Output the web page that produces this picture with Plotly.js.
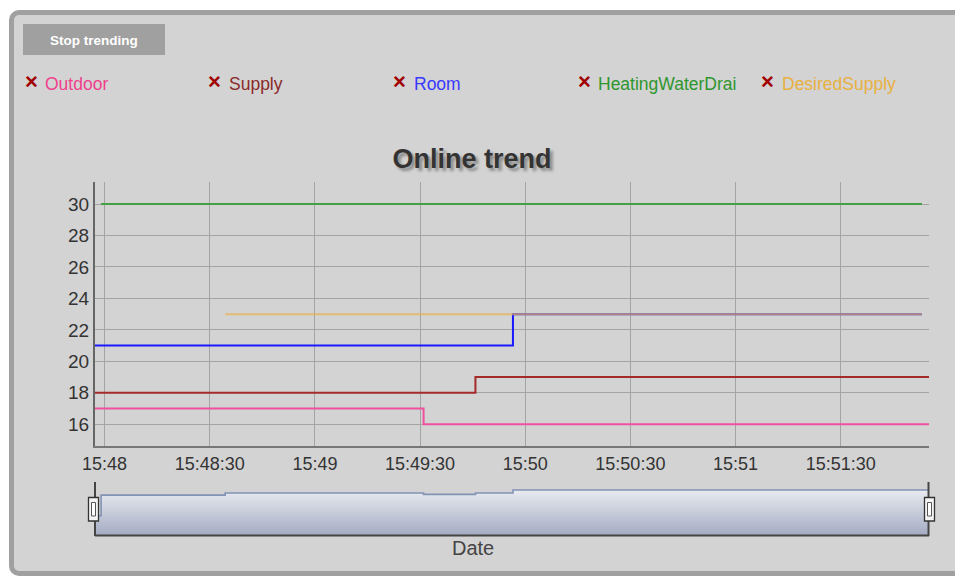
<!DOCTYPE html>
<html>
<head>
<meta charset="utf-8">
<script src="https://cdn.plot.ly/plotly-3.0.1.min.js"></script>
<style>
  html, body { margin: 0; padding: 0; background: #ffffff; width: 955px; height: 577px; overflow: hidden; }
  #card { position: absolute; left: 9px; top: 10px; width: 980px; height: 556px; background: #d3d3d3;
          border: 5px solid #a0a0a0; border-radius: 10px; box-sizing: content-box; }
  #chart { position: absolute; left: 0; top: 0; width: 955px; height: 577px; }
</style>
</head>
<body>
<div id="card"></div>
<div id="chart"></div>
<script>
// ---------------- data ----------------
const DAY = '2024-01-01 ';
const seriesNames = ['Outdoor', 'Supply', 'Room', 'HeatingWaterDrai', 'DesiredSupply'];

const outdoorTime = ['15:47:57', '15:49:31', '15:51:55.2'];
const outdoorVal  = [17, 16, 16];

const supplyTime  = ['15:47:57', '15:49:45.8', '15:51:55.2'];
const supplyVal   = [18, 19, 19];

const roomTime    = ['15:47:57', '15:49:56.5', '15:51:53.2'];
const roomVal     = [21, 23, 23];

const heatingTime = ['15:47:59', '15:51:53.2'];
const heatingVal  = [30, 30];

const desiredTime = ['15:48:34.4', '15:51:53.2'];
const desiredVal  = [23, 23];

const xTickVals   = ['15:48:00', '15:48:30', '15:49:00', '15:49:30', '15:50:00', '15:50:30', '15:51:00', '15:51:30'];
const xTickText   = ['15:48', '15:48:30', '15:49', '15:49:30', '15:50', '15:50:30', '15:51', '15:51:30'];
const yTickVals   = [16, 18, 20, 22, 24, 26, 28, 30];

// ---------------- styling ----------------
const FONT = 'Liberation Sans, Arial, sans-serif';
const lineColors = ['#f0509e', '#a52a2a', '#1a1aff', '#45a045', 'rgba(232,176,80,0.72)'];
const textColors = ['#f0408c', '#8b2a2a', '#3838ff', '#2e962e', '#e8b040'];
const xRange = [DAY + '15:47:57.26', DAY + '15:51:55.2'];

const times = [outdoorTime, supplyTime, roomTime, heatingTime, desiredTime];
const vals  = [outdoorVal, supplyVal, roomVal, heatingVal, desiredVal];

const toX = t => DAY + t;
const toMs = t => new Date('2024-01-01T' + t).getTime();

const traces = seriesNames.map((name, i) => ({
  type: 'scatter', mode: 'lines', name: name,
  x: times[i].map(toX), y: vals[i],
  line: { color: lineColors[i], width: 2, shape: 'hv' },
  xaxis: 'x', yaxis: 'y', hoverinfo: 'skip'
}));

// range-selector profile: average of the series present at each breakpoint
const allT = Array.from(new Set([].concat(...times))).sort((a, b) => toMs(a) - toMs(b));
const avgY = allT.map(t => {
  const ms = toMs(t); let s = 0, n = 0;
  times.forEach((ts, i) => {
    const first = toMs(ts[0]), last = toMs(ts[ts.length - 1]);
    if (ms >= first && ms <= last) {
      let v = vals[i][0];
      ts.forEach((tt, k) => { if (toMs(tt) <= ms) v = vals[i][k]; });
      s += v; n++;
    }
  });
  return n ? s / n : null;
});
traces.push({
  type: 'scatter', mode: 'lines', x: allT.map(toX), y: avgY,
  xaxis: 'x2', yaxis: 'y2', fill: 'tozeroy',
  line: { color: '#8293b5', width: 1.6, shape: 'hv' },
  fillgradient: { type: 'vertical', start: 15.9, stop: 22.4,
                  colorscale: [[0, '#a3abc2'], [1, '#ebedf2']] },
  hoverinfo: 'skip'
});

// pixel -> paper helpers (plot area 95..929 x 182..536)
const PX = px => (px - 95) / 834;
const PY = py => (536 - py) / 354;

const shapes = [
  // Stop trending button
  { type: 'rect', xref: 'paper', yref: 'paper', x0: PX(23), x1: PX(165), y0: PY(55), y1: PY(24),
    fillcolor: '#a0a0a0', line: { width: 0 }, layer: 'below' },
  // range selector frame
  { type: 'line', xref: 'paper', yref: 'paper', x0: PX(95), x1: PX(929), y0: PY(535.5), y1: PY(535.5),
    line: { color: '#444', width: 2 } },
  { type: 'line', xref: 'paper', yref: 'paper', x0: PX(95), x1: PX(95), y0: PY(536), y1: PY(482),
    line: { color: '#444', width: 2 } },
  { type: 'line', xref: 'paper', yref: 'paper', x0: PX(928.5), x1: PX(928.5), y0: PY(536), y1: PY(482),
    line: { color: '#444', width: 2 } }
];
// handles
[93.5, 929.5].forEach(cx => {
  shapes.push({ type: 'rect', xref: 'paper', yref: 'paper', x0: PX(cx - 5), x1: PX(cx + 5),
    y0: PY(521), y1: PY(497.5), fillcolor: '#f4f4f4', line: { color: '#333', width: 1.3 } });
  shapes.push({ type: 'rect', xref: 'paper', yref: 'paper', x0: PX(cx - 2), x1: PX(cx + 2),
    y0: PY(516), y1: PY(502.5), fillcolor: '#ffffff', line: { color: '#555', width: 1 } });
});

const annotations = [
  { text: '<b>Stop trending</b>', xref: 'paper', yref: 'paper', x: PX(94), y: PY(40),
    xanchor: 'center', yanchor: 'middle', showarrow: false,
    font: { family: FONT, size: 13.5, color: '#ffffff' } },
  { text: 'Date', xref: 'paper', yref: 'paper', x: PX(473), y: PY(548),
    xanchor: 'center', yanchor: 'middle', showarrow: false,
    font: { family: FONT, size: 20, color: '#444' } }
];
const legX = [31, 214.7, 399, 584, 767.3];
const legTextX = [43, 227, 411.5, 595.5, 780];
seriesNames.forEach((name, i) => {
  annotations.push({ text: '<b>×</b>', xref: 'paper', yref: 'paper', x: PX(legX[i]), y: PY(81),
    xanchor: 'center', yanchor: 'middle', showarrow: false,
    font: { family: FONT, size: 22, color: '#a00000' } });
  annotations.push({ text: name, xref: 'paper', yref: 'paper', x: PX(legTextX[i]), y: PY(84),
    xanchor: 'left', yanchor: 'middle', showarrow: false,
    font: { family: FONT, size: 17.5, color: textColors[i] } });
});

const layout = {
  width: 955, height: 577,
  margin: { l: 95, r: 26, t: 182, b: 41, pad: 0 },
  paper_bgcolor: 'rgba(0,0,0,0)', plot_bgcolor: 'rgba(0,0,0,0)',
  showlegend: false,
  font: { family: FONT, color: '#333' },
  title: { text: 'Online trend', x: 472 / 955, xref: 'container', xanchor: 'center',
           y: 1 - 159 / 577, yref: 'container', yanchor: 'middle',
           font: { family: FONT, size: 27, color: '#333', weight: 'bold', shadow: '3px 3px 3px #8a8a8a' } },
  xaxis: { type: 'date', range: xRange, anchor: 'y',
           tickvals: xTickVals.map(toX), ticktext: xTickText,
           showgrid: true, gridcolor: '#a4a4a4', gridwidth: 1,
           showline: true, linecolor: '#777', linewidth: 2, ticks: '', zeroline: false,
           tickfont: { family: FONT, size: 18, color: '#333' }, fixedrange: true },
  yaxis: { domain: [(536 - 446) / 354, 1], range: [14.62, 31.4], anchor: 'x',
           tickvals: yTickVals, showgrid: true, gridcolor: '#a4a4a4', gridwidth: 1,
           showline: true, linecolor: '#666', linewidth: 2, ticks: '', zeroline: false,
           tickfont: { family: FONT, size: 19, color: '#333' }, fixedrange: true },
  xaxis2: { type: 'date', range: xRange, anchor: 'y2', showticklabels: false, showgrid: false,
            zeroline: false, showline: false, fixedrange: true },
  yaxis2: { domain: [0, (536 - 482) / 354], range: [15.9, 23.3], anchor: 'x2', visible: false,
            fixedrange: true },
  shapes: shapes,
  annotations: annotations
};

Plotly.newPlot('chart', traces, layout, { displayModeBar: false, staticPlot: true });
</script>
</body>
</html>
